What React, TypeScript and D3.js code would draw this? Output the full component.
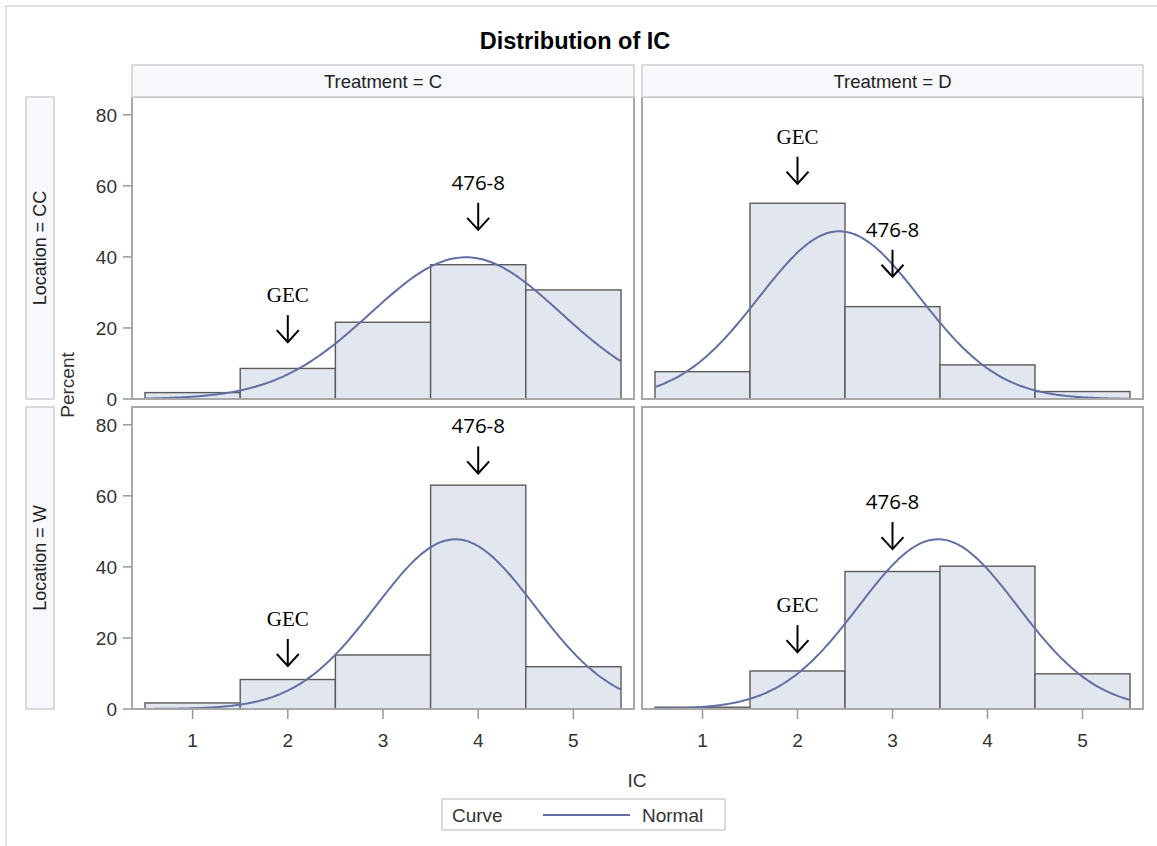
import React from "react";
import * as d3 from "d3";

const treatments = ["C", "D"];
const locations = ["CC", "W"];
const icBins = [1, 2, 3, 4, 5];
const pctCC_C = [1.8, 8.6, 21.6, 37.8, 30.7];
const pctCC_D = [7.7, 55.1, 26.0, 9.6, 2.1];
const pctW_C = [1.7, 8.3, 15.2, 63.0, 11.9];
const pctW_D = [0.5, 10.7, 38.7, 40.2, 9.9];
const normalMean = [3.87, 2.44, 3.76, 3.48];
const normalSd = [1.0, 0.845, 0.835, 0.835];
const yTicks = [0, 20, 40, 60, 80];
const xTicks = [1, 2, 3, 4, 5];

const annotPanel = [0, 0, 1, 1, 2, 2, 3, 3];
const annotText = ["GEC", "476-8", "GEC", "476-8", "GEC", "476-8", "GEC", "476-8"];
const annotX = [2, 4, 2, 3, 2, 4, 2, 3];
const annotTip = [16, 47.6, 60.6, 34.4, 12.1, 66.3, 16, 45];

const panelData = [pctCC_C, pctCC_D, pctW_C, pctW_D];

const colX = [132, 642];
const colW = [502, 501];
const rowY = [97, 407];
const panelH = 302;
const pad = 13;

const SANS = "'Liberation Sans', Arial, sans-serif";
const BAR_FILL = "#e2e6ef";
const BAR_STROKE = "#5a5a5a";
const CURVE = "#6070a6";
const FRAME = "#a8a8a8";

function normalPct(x: number, m: number, s: number) {
  return (100 / (s * Math.sqrt(2 * Math.PI))) * Math.exp(-0.5 * ((x - m) / s) ** 2);
}

function Panel({ idx }: { idx: number }) {
  const r = Math.floor(idx / 2);
  const c = idx % 2;
  const px = colX[c];
  const py = rowY[r];
  const W = colW[c];
  const x = d3.scaleLinear().domain([0.5, 5.5]).range([px + pad, px + W - pad]);
  const y = d3.scaleLinear().domain([0, 85]).range([py + panelH, py]);
  const vals = panelData[idx];
  const m = normalMean[idx];
  const s = normalSd[idx];
  const pts = d3.range(0, 201).map((i) => 0.5 + (5 * i) / 200);
  const line = d3
    .line<number>()
    .x((d) => x(d))
    .y((d) => y(normalPct(d, m, s)))
    .curve(d3.curveBasis);
  const annots = annotPanel.map((p, i) => i).filter((i) => annotPanel[i] === idx);
  return (
    <g>
      {icBins.map((b, i) => (
        <rect
          key={i}
          x={x(b - 0.5)}
          y={y(vals[i])}
          width={x(b + 0.5) - x(b - 0.5)}
          height={y(0) - y(vals[i])}
          fill={BAR_FILL}
          stroke={BAR_STROKE}
          strokeWidth={1.4}
        />
      ))}
      <path d={line(pts) || ""} fill="none" stroke={CURVE} strokeWidth={2} />
      <rect x={px} y={py} width={W} height={panelH} fill="none" stroke={FRAME} strokeWidth={2} />
      {r === 0 && (
        <g>
          <rect x={px} y={65} width={W} height={32} fill="#f7f8fb" stroke="#cfcfcf" strokeWidth={1.5} />
          <text
            x={px + W / 2}
            y={88}
            textAnchor="middle"
            fontFamily={SANS}
            fontSize={18.5}
            fill="#222"
          >
            {`Treatment = ${treatments[c]}`}
          </text>
        </g>
      )}
      {c === 0 && (
        <g>
          <rect x={26} y={py} width={28} height={panelH} fill="#f7f8fb" stroke="#cfcfcf" strokeWidth={1.5} />
          <text
            transform={`translate(46,${py + panelH / 2}) rotate(-90)`}
            textAnchor="middle"
            fontFamily={SANS}
            fontSize={18}
            fill="#222"
          >
            {`Location = ${locations[r]}`}
          </text>
          {yTicks.map((t) => (
            <g key={t}>
              <line x1={123} x2={px} y1={y(t)} y2={y(t)} stroke="#999" strokeWidth={1.5} />
              <text
                x={117}
                y={y(t) + 7}
                textAnchor="end"
                fontFamily={SANS}
                fontSize={19}
                fill="#333"
              >
                {t}
              </text>
            </g>
          ))}
        </g>
      )}
      {r === 1 &&
        xTicks.map((t) => (
          <g key={t}>
            <line x1={x(t)} x2={x(t)} y1={py + panelH} y2={py + panelH + 10} stroke="#999" strokeWidth={1.5} />
            <text
              x={x(t)}
              y={747}
              textAnchor="middle"
              fontFamily={SANS}
              fontSize={19}
              fill="#333"
            >
              {t}
            </text>
          </g>
        ))}
      {annots.map((i) => {
        const ax = x(annotX[i]);
        const tip = y(annotTip[i]);
        const isGec = annotText[i] === "GEC";
        return (
          <g key={i}>
            <text
              x={ax}
              y={tip - 40}
              textAnchor="middle"
              fontFamily={isGec ? "'Liberation Serif', 'Times New Roman', serif" : "'Open Sans', sans-serif"}
              fontSize={isGec ? 21 : 20.5}
              fill="#000"
            >
              {annotText[i]}
            </text>
            <line x1={ax} x2={ax} y1={tip - 27} y2={tip} stroke="#000" strokeWidth={2} />
            <polyline
              points={`${ax - 11},${tip - 12} ${ax},${tip} ${ax + 11},${tip - 12}`}
              fill="none"
              stroke="#000"
              strokeWidth={2}
            />
          </g>
        );
      })}
    </g>
  );
}

export default function App() {
  return (
    <svg
      width={1157}
      height={846}
      style={{ position: "absolute", left: 0, top: 0, background: "#fff" }}
    >
      <line x1={5} x2={1157} y1={6} y2={6} stroke="#d8d8d8" strokeWidth={1.5} />
      <line x1={6} x2={6} y1={6} y2={846} stroke="#d8d8d8" strokeWidth={1.5} />
      <text
        x={575}
        y={49}
        textAnchor="middle"
        fontFamily={SANS}
        fontWeight="bold"
        fontSize={23.5}
        fill="#000"
      >
        Distribution of IC
      </text>
      {[0, 1, 2, 3].map((i) => (
        <Panel key={i} idx={i} />
      ))}
      <text
        transform="translate(74,385) rotate(-90)"
        textAnchor="middle"
        fontFamily={SANS}
        fontSize={19}
        fill="#333"
      >
        Percent
      </text>
      <text x={637} y={787} textAnchor="middle" fontFamily={SANS} fontSize={19} fill="#333">
        IC
      </text>
      <rect x={442} y={799} width={283} height={31} fill="#fff" stroke="#cfcfcf" strokeWidth={1.5} />
      <text x={452} y={822} fontFamily={SANS} fontSize={19} fill="#333">
        Curve
      </text>
      <line x1={543} x2={630} y1={815} y2={815} stroke={CURVE} strokeWidth={2} />
      <text x={642} y={822} fontFamily={SANS} fontSize={19} fill="#333">
        Normal
      </text>
    </svg>
  );
}
